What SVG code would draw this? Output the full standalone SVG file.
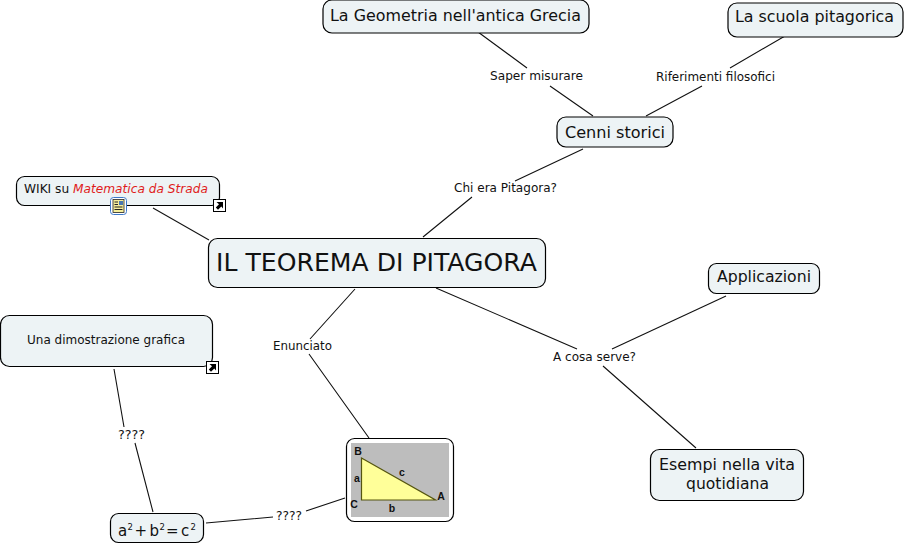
<svg xmlns="http://www.w3.org/2000/svg" width="906" height="545" viewBox="0 0 906 545">
<style>
text{font-family:"DejaVu Sans",Verdana,sans-serif;fill:#111}
.n{fill:#edf3f5;stroke:#000;stroke-width:1.2}
.c{stroke:#111;stroke-width:1.1;fill:none}
.l{font-size:11.500px}
.m{font-size:15px}
.s{font-size:11.500px}
.tri{font-family:"Liberation Sans",Arial,sans-serif;font-size:10.500px;font-weight:bold;text-anchor:middle}
.ic{fill:#fff;stroke:#000;stroke-width:1}
</style>
<defs>
<g id="lnk"><rect class="ic" x="0.5" y="0.5" width="12" height="12"/><path d="M3.500 3H10V9.500L8.300 7.500L5 10.800L2.800 8.600L6 5.200Z" fill="#000"/></g>
</defs>
<g id="connectors">
<path class="c" d="M478 32L527 68M550 86L593 116"/>
<path class="c" d="M785 36L730 68M702 86L646 116"/>
<path class="c" d="M583 149L515 181M472 197L423 237"/>
<path class="c" d="M153 208L209 240"/>
<path class="c" d="M355 289L310 339M309 354L369 438"/>
<path class="c" d="M436 288L577 349M603 366L696 448"/>
<path class="c" d="M726 296L612 349"/>
<path class="c" d="M114 369L124 427M135 443L153 512"/>
<path class="c" d="M206 523L273 517M306 511L345 498"/>
</g>
<g id="link-labels">
<text class="l" x="490" y="80" textLength="93" lengthAdjust="spacingAndGlyphs">Saper misurare</text>
<text class="l" x="656" y="81" textLength="119" lengthAdjust="spacingAndGlyphs">Riferimenti filosofici</text>
<text class="l" x="454" y="192" textLength="103" lengthAdjust="spacingAndGlyphs">Chi era Pitagora?</text>
<text class="l" x="273" y="350" textLength="59" lengthAdjust="spacingAndGlyphs">Enunciato</text>
<text class="l" x="553" y="361" textLength="83" lengthAdjust="spacingAndGlyphs">A cosa serve?</text>
<text class="l" x="118" y="439" textLength="27" lengthAdjust="spacingAndGlyphs">????</text>
<text class="l" x="276" y="520" textLength="26" lengthAdjust="spacingAndGlyphs">????</text>
</g>
<g id="geometria"><rect class="n" x="323" y="0" width="266" height="33" rx="9"/><text class="m" x="330" y="21" textLength="251" lengthAdjust="spacingAndGlyphs">La Geometria nell'antica Grecia</text></g>
<g id="scuola"><rect class="n" x="728" y="3" width="175" height="34" rx="9"/><text class="m" x="735" y="22" textLength="159" lengthAdjust="spacingAndGlyphs">La scuola pitagorica</text></g>
<g id="cenni"><rect class="n" x="557" y="117" width="116" height="30" rx="9"/><text class="m" x="565" y="138" textLength="100" lengthAdjust="spacingAndGlyphs">Cenni storici</text></g>
<g id="wiki"><rect class="n" x="16.500" y="176.500" width="203" height="29" rx="8"/><text class="s" x="24" y="193" textLength="184" lengthAdjust="spacingAndGlyphs">WIKI su <tspan fill="#e01b1b" font-style="italic">Matematica da Strada</tspan></text>
<g transform="translate(110 197)"><rect x="0.500" y="0.500" width="16" height="17" rx="3" fill="#fff" stroke="#3c78c8"/><rect x="3" y="2.500" width="11" height="13" fill="#f5ee9a" stroke="#222" stroke-width="0.800"/><path d="M4.500 5H8M4.500 7.500H8M4.500 10H12.500M4.500 12.500H12.500" stroke="#222" fill="none"/><rect x="9" y="4" width="4" height="4" fill="#4a78b0"/></g>
<use href="#lnk" x="213" y="199"/></g>
<g id="main"><rect class="n" x="208.500" y="238.500" width="337" height="49" rx="9"/><text x="216" y="271" font-size="24" textLength="321" lengthAdjust="spacingAndGlyphs">IL TEOREMA DI PITAGORA</text></g>
<g id="dimostrazione"><rect class="n" x="0.500" y="315.500" width="212" height="51" rx="9"/><text class="s" x="27" y="344" textLength="158" lengthAdjust="spacingAndGlyphs">Una dimostrazione grafica</text><use href="#lnk" x="206" y="361"/></g>
<g id="applicazioni"><rect class="n" x="708.500" y="263.500" width="111" height="30" rx="8"/><text class="m" x="717" y="282" textLength="94" lengthAdjust="spacingAndGlyphs">Applicazioni</text></g>
<g id="esempi"><rect class="n" x="650.500" y="449.500" width="153" height="51" rx="9"/><text class="m" x="659" y="470" textLength="136" lengthAdjust="spacingAndGlyphs">Esempi nella vita</text><text class="m" x="686" y="489" textLength="83" lengthAdjust="spacingAndGlyphs">quotidiana</text></g>
<g id="formula"><rect class="n" x="110.500" y="513.500" width="93" height="29" rx="8"/>
<text x="118" y="535.500" font-size="15">a</text><text x="127.500" y="529.500" font-size="8.500">2</text><text x="134.500" y="535.500" font-size="15">+</text><text x="149.500" y="535.500" font-size="15">b</text><text x="159.500" y="529.500" font-size="8.500">2</text><text x="166" y="535.500" font-size="15">=</text><text x="181" y="535.500" font-size="15">c</text><text x="190.500" y="529.500" font-size="8.500">2</text></g>
<g id="triangolo"><rect class="n" x="346.500" y="438.500" width="107" height="83" rx="8" style="fill:#fff"/><rect x="351" y="443" width="98" height="74" fill="#bdbdbd"/>
<path d="M361.500 458V500H435.500Z" fill="#ffff99" stroke="#555510" stroke-width="1.200"/>
<text class="tri" x="358" y="455">B</text><text class="tri" x="357" y="482">a</text><text class="tri" x="354" y="508">C</text><text class="tri" x="402" y="476">c</text><text class="tri" x="392" y="512">b</text><text class="tri" x="441" y="500">A</text></g>
</svg>
